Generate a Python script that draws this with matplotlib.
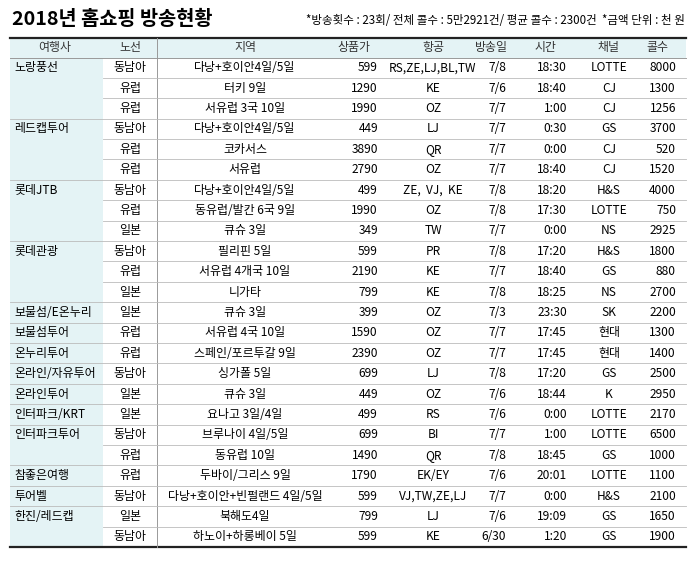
import matplotlib
matplotlib.use("Agg")
import matplotlib.pyplot as plt
from matplotlib.patches import Rectangle

plt.rcParams['font.family'] = ['Noto Sans CJK KR', 'DejaVu Sans']

title = "2018년 홈쇼핑 방송현황"
subtitle = "*방송횟수 : 23회/ 전체 콜수 : 5만2921건/ 평균 콜수 : 2300건  *금액 단위 : 천 원"
headers = ["여행사", "노선", "지역", "상품가", "항공", "방송일", "시간", "채널", "콜수"]

agencies = ["노랑풍선", "", "", "레드캡투어", "", "", "롯데JTB", "", "", "롯데관광", "", "",
            "보물섬/E온누리", "보물섬투어", "온누리투어", "온라인/자유투어", "온라인투어",
            "인터파크/KRT", "인터파크투어", "", "참좋은여행", "투어벨", "한진/레드캡", ""]
routes = ["동남아", "유럽", "유럽", "동남아", "유럽", "유럽", "동남아", "유럽", "일본", "동남아", "유럽", "일본",
          "일본", "유럽", "유럽", "동남아", "일본", "일본", "동남아", "유럽", "유럽", "동남아", "일본", "동남아"]
regions = ["다낭+호이안4일/5일", "터키 9일", "서유럽 3국 10일", "다낭+호이안4일/5일", "코카서스", "서유럽",
           "다낭+호이안4일/5일", "동유럽/발칸 6국 9일", "큐슈 3일", "필리핀 5일", "서유럽 4개국 10일", "니가타",
           "큐슈 3일", "서유럽 4국 10일", "스페인/포르투갈 9일", "싱가폴 5일", "큐슈 3일", "요나고 3일/4일",
           "브루나이 4일/5일", "동유럽 10일", "두바이/그리스 9일", "다낭+호이안+빈펄랜드 4일/5일",
           "북해도4일", "하노이+하롱베이 5일"]
prices = [599, 1290, 1990, 449, 3890, 2790, 499, 1990, 349, 599, 2190, 799,
          399, 1590, 2390, 699, 449, 499, 699, 1490, 1790, 599, 799, 599]
airlines = ["RS,ZE,LJ,BL,TW", "KE", "OZ", "LJ", "QR", "OZ", "ZE,  VJ,  KE", "OZ", "TW", "PR", "KE", "KE",
            "OZ", "OZ", "OZ", "LJ", "OZ", "RS", "BI", "QR", "EK/EY", "VJ,TW,ZE,LJ", "LJ", "KE"]
dates = ["7/8", "7/6", "7/7", "7/7", "7/7", "7/7", "7/8", "7/8", "7/7", "7/8", "7/7", "7/8",
         "7/3", "7/7", "7/7", "7/8", "7/6", "7/6", "7/7", "7/8", "7/6", "7/7", "7/6", "6/30"]
times = ["18:30", "18:40", "1:00", "0:30", "0:00", "18:40", "18:20", "17:30", "0:00", "17:20", "18:40", "18:25",
         "23:30", "17:45", "17:45", "17:20", "18:44", "0:00", "1:00", "18:45", "20:01", "0:00", "19:09", "1:20"]
channels = ["LOTTE", "CJ", "CJ", "GS", "CJ", "CJ", "H&S", "LOTTE", "NS", "H&S", "GS", "NS",
            "SK", "현대", "현대", "GS", "K", "LOTTE", "LOTTE", "GS", "LOTTE", "H&S", "GS", "GS"]
calls = [8000, 1300, 1256, 3700, 520, 1520, 4000, 750, 2925, 1800, 880, 2700,
         2200, 1300, 1400, 2500, 2950, 2170, 6500, 1000, 1100, 2100, 1650, 1900]

W, H = 695, 562
fig = plt.figure(figsize=(W/100, H/100), dpi=100)
ax = fig.add_axes([0, 0, 1, 1])
ax.set_xlim(0, W); ax.set_ylim(H, 0); ax.axis('off')

L, R = 10, 686
top = 37.5
hdr_h = 20
y0 = top + hdr_h
n = len(routes)
rh = (547 - y0) / n
blue = '#e4f3f5'
fs = 8.6

ax.text(12, 19, title, fontsize=14.2, fontweight='bold', va='center', ha='left')
ax.text(R - 1, 20, subtitle, fontsize=8.3, va='center', ha='right')

ax.add_patch(Rectangle((L, top), R - L, hdr_h, color=blue, lw=0))
ax.add_patch(Rectangle((L, y0), 103 - L, n * rh, color=blue, lw=0))
ax.plot([L, R], [top, top], color='#222', lw=1.6)
ax.plot([L, R], [547, 547], color='#222', lw=1.6)
ax.plot([L, R], [y0, y0], color='#999', lw=0.7)
ax.plot([157, 157], [top, 547], color='#999', lw=0.7)

hx = [55, 130, 245, 354, 433, 491, 546, 609, 657]
for x, h in zip(hx, headers):
    ax.text(x, top + hdr_h / 2, h, fontsize=fs, ha='center', va='center', color='#333')

for i in range(n):
    yc = y0 + rh * (i + 0.5)
    yb = y0 + rh * (i + 1)
    if i < n - 1:
        nxt = agencies[i + 1]
        xs = L if nxt else 103
        ax.plot([xs, R], [yb, yb], color='#bbb', lw=0.6)
    if agencies[i]:
        ax.text(14, yc, agencies[i], fontsize=fs, ha='left', va='center')
    ax.text(130, yc, routes[i], fontsize=fs, ha='center', va='center')
    ax.text(245, yc, regions[i], fontsize=fs, ha='center', va='center')
    ax.text(378, yc, str(prices[i]), fontsize=fs, ha='right', va='center')
    ax.text(433, yc, airlines[i], fontsize=fs, ha='center', va='center')
    ax.text(506, yc, dates[i], fontsize=fs, ha='right', va='center')
    ax.text(567, yc, times[i], fontsize=fs, ha='right', va='center')
    ax.text(609, yc, channels[i], fontsize=fs, ha='center', va='center')
    ax.text(676, yc, str(calls[i]), fontsize=fs, ha='right', va='center')

fig.savefig('out.png', dpi=100, facecolor='white')
